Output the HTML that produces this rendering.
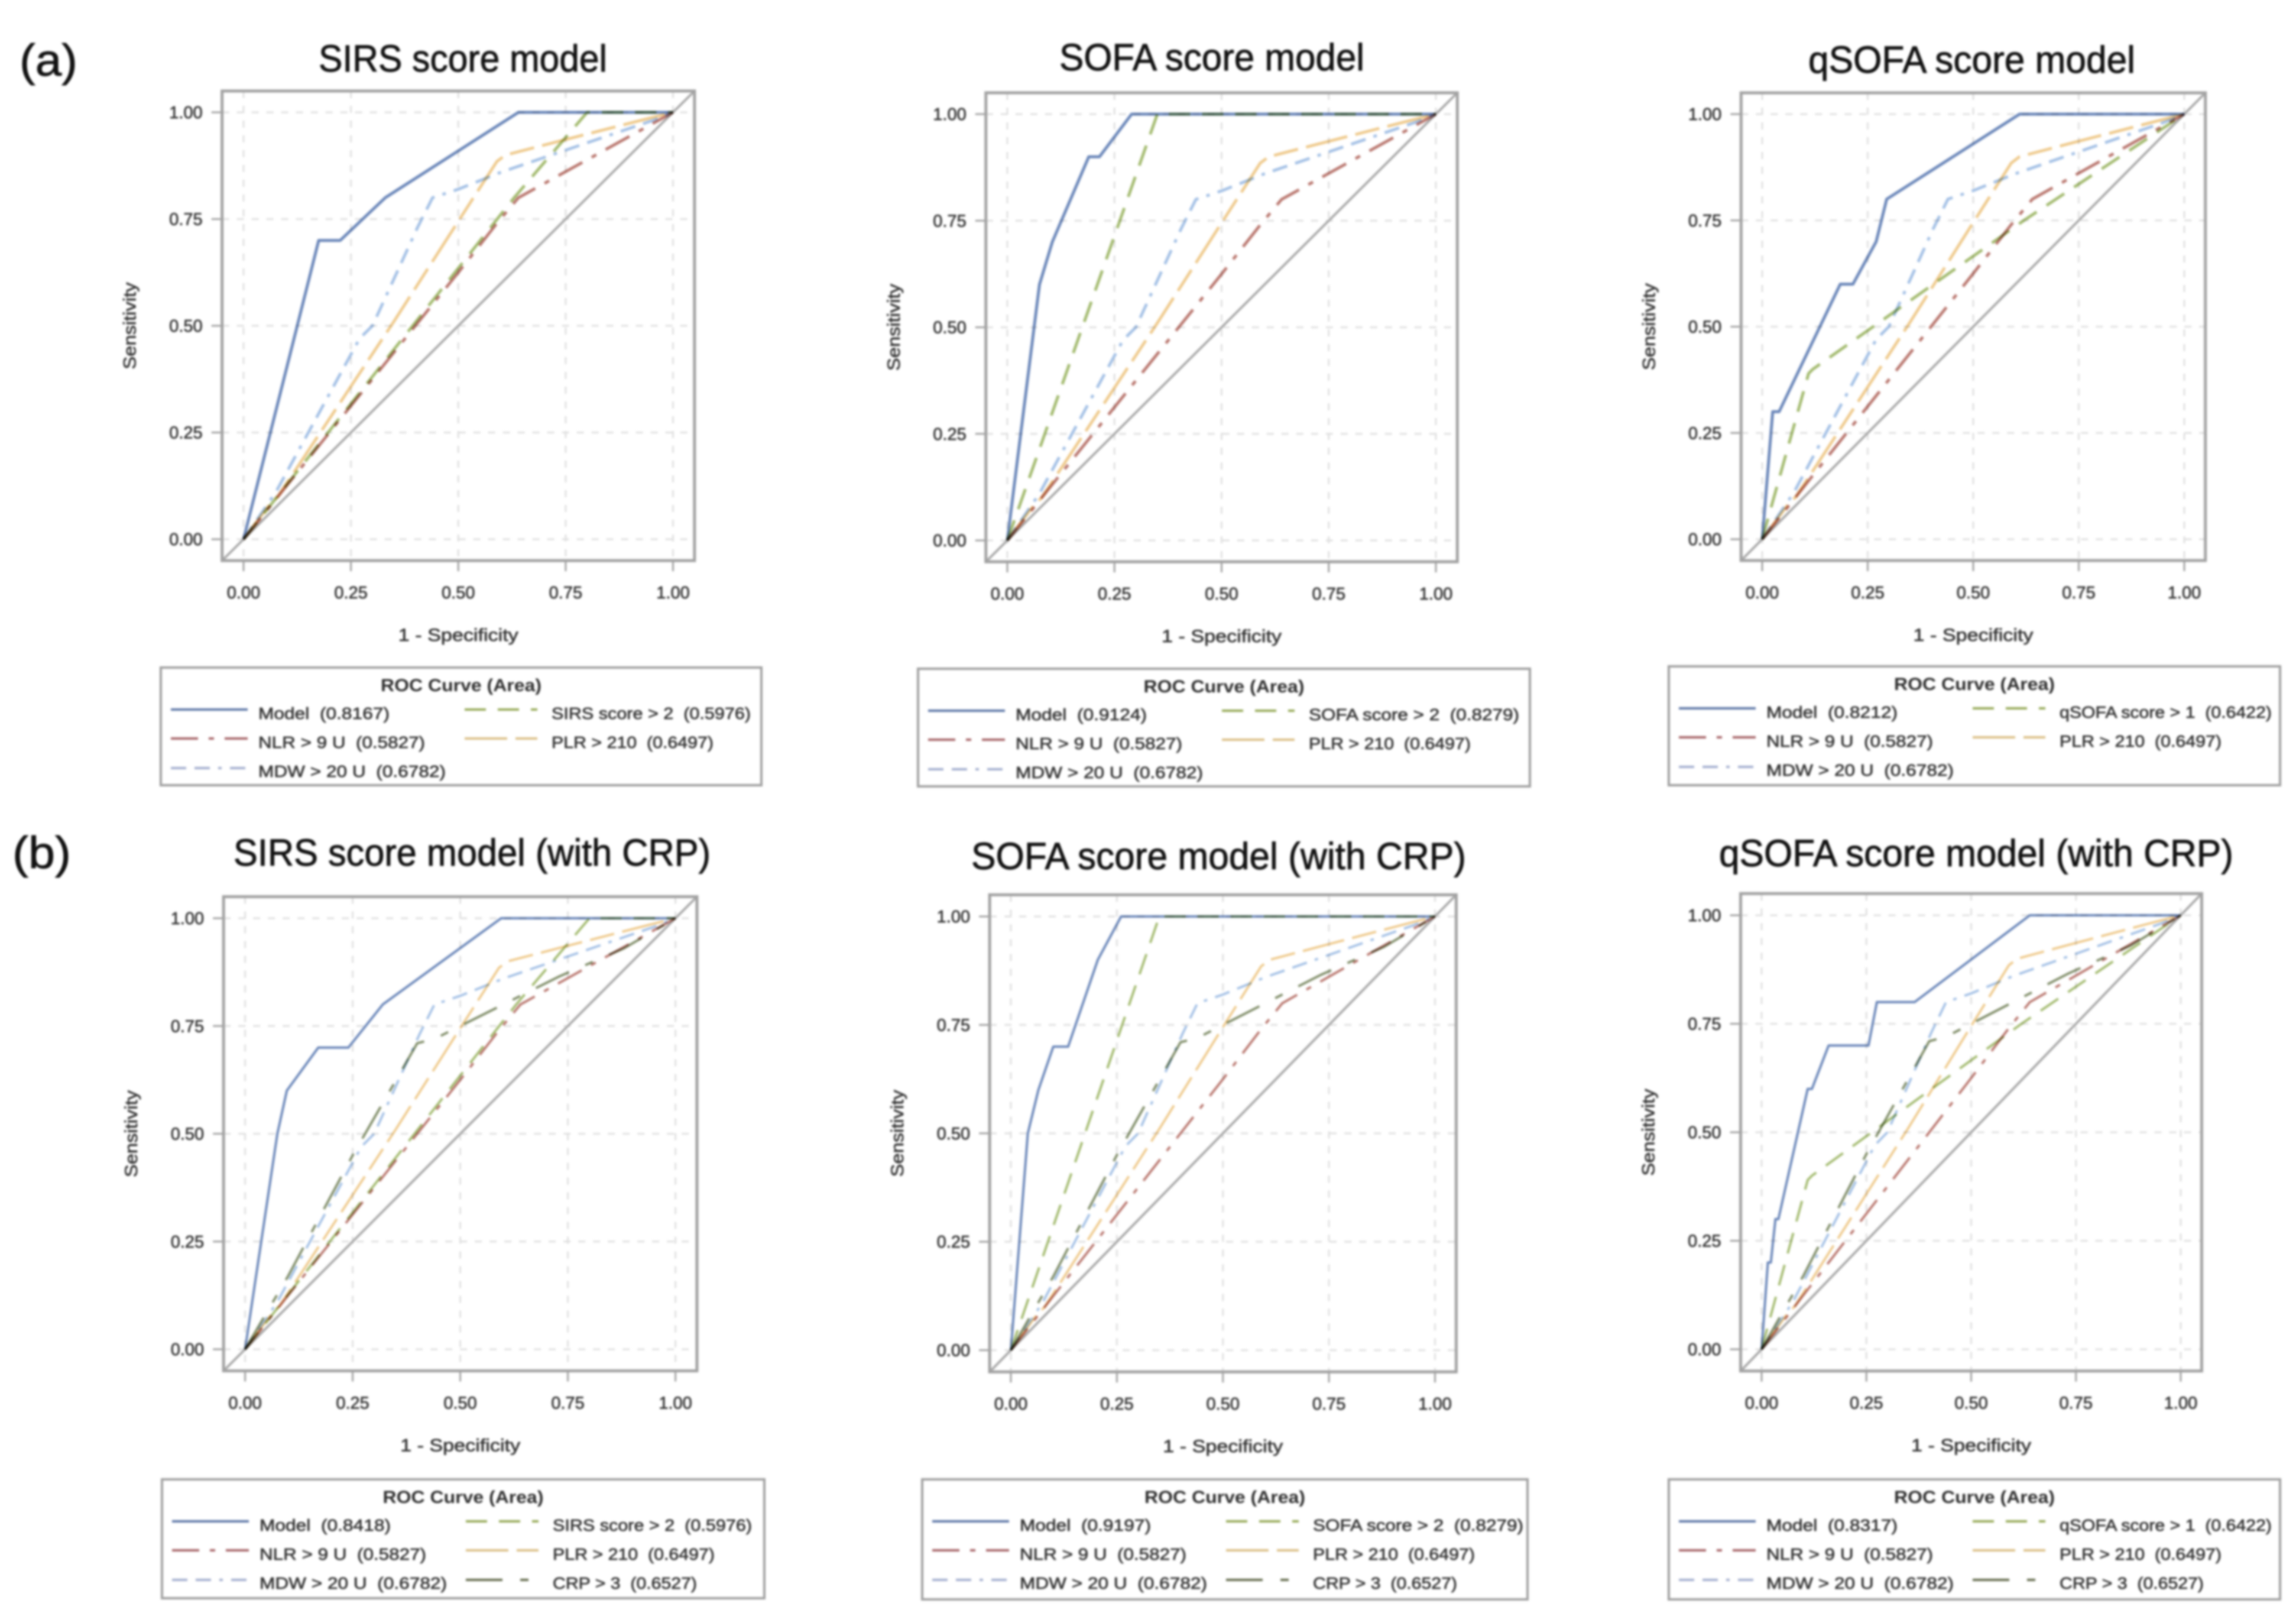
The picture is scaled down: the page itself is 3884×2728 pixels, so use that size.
<!DOCTYPE html>
<html lang="en">
<head>
<meta charset="utf-8">
<title>ROC curves for SIRS, SOFA and qSOFA score models</title>
<style>
  html, body { margin: 0; padding: 0; background: #ffffff; }
  svg { display: block; }
  text { font-family: "Liberation Sans", sans-serif; white-space: pre; }
  #figure-root { filter: blur(1.9px); }
  .panel-title { font-size: 64px; fill: #111111; stroke: #111111; stroke-width: 0.9px; }
  .panel-letter { font-size: 76px; fill: #111111; stroke: #111111; stroke-width: 0.9px; }
  .small-label { stroke: #333333; stroke-width: 0.7px; }
  .curve { mix-blend-mode: multiply; }
</style>
</head>
<body>
<svg id="figure" width="3884" height="2728" viewBox="0 0 3884 2728" xmlns="http://www.w3.org/2000/svg">
  <rect width="3884" height="2728" fill="#ffffff"/>
  <g id="figure-root">
    <text class="panel-letter" x="33" y="128" textLength="98" lengthAdjust="spacingAndGlyphs">(a)</text>
    <text class="panel-letter" x="21" y="1468" textLength="99" lengthAdjust="spacingAndGlyphs">(b)</text>
    <text class="panel-title" x="539" y="121" textLength="488" lengthAdjust="spacingAndGlyphs">SIRS score model</text>
    <text class="panel-title" x="1792" y="119" textLength="516" lengthAdjust="spacingAndGlyphs">SOFA score model</text>
    <text class="panel-title" x="3059" y="123" textLength="553" lengthAdjust="spacingAndGlyphs">qSOFA score model</text>
    <text class="panel-title" x="395" y="1464" textLength="807" lengthAdjust="spacingAndGlyphs">SIRS score model (with CRP)</text>
    <text class="panel-title" x="1643" y="1470" textLength="837" lengthAdjust="spacingAndGlyphs">SOFA score model (with CRP)</text>
    <text class="panel-title" x="2908" y="1465" textLength="870" lengthAdjust="spacingAndGlyphs">qSOFA score model (with CRP)</text>
  </g>
</svg>
<script>
// ---- chart data: [1 - specificity, sensitivity] ----
const tickValues = [0, 0.25, 0.5, 0.75, 1];
const tickLabels = ["0.00", "0.25", "0.50", "0.75", "1.00"];

const nlrCurve = [[0,0],[0.04,0.05],[0.08,0.1],[0.44,0.55],[0.5,0.625],[0.59,0.74],[0.64,0.8],[1,1]];
const mdwCurve = [[0,0],[0.075,0.11],[0.27,0.47],[0.3,0.5],[0.405,0.73],[0.44,0.8],[0.5,0.82],[0.6,0.86],[0.95,0.98],[1,1]];
const plrCurve = [[0,0],[0.06,0.08],[0.08,0.1],[0.35,0.51],[0.5,0.745],[0.59,0.885],[0.61,0.9],[0.745,0.935],[0.94,0.985],[1,1]];
const crpCurve = [[0,0],[0.1,0.17],[0.25,0.45],[0.4,0.71],[0.44,0.72],[0.5,0.75],[0.62,0.81],[0.73,0.865],[0.88,0.93],[1,1]];
const sirsScoreCurve = [[0,0],[0.63,0.8],[0.8,1],[1,1]];
const sofaScoreCurve = [[0,0],[0.35,1],[1,1]];
const qsofaScoreCurve = [[0,0],[0.11,0.39],[0.12,0.4],[0.62,0.75],[1,1]];

const modelSirs = [[0,0],[0.15,0.6],[0.175,0.7],[0.225,0.7],[0.33,0.8],[0.64,1],[1,1]];
const modelSofa = [[0,0],[0.075,0.6],[0.105,0.7],[0.19,0.9],[0.215,0.9],[0.29,1],[1,1]];
const modelQsofa = [[0,0],[0.025,0.3],[0.04,0.3],[0.185,0.6],[0.215,0.6],[0.27,0.7],[0.295,0.8],[0.61,1],[1,1]];
const modelSirsCrp = [[0,0],[0.075,0.5],[0.097,0.6],[0.17,0.7],[0.24,0.7],[0.32,0.8],[0.595,1],[1,1]];
const modelSofaCrp = [[0,0],[0.04,0.5],[0.065,0.6],[0.1,0.7],[0.135,0.7],[0.205,0.9],[0.26,1],[1,1]];
const modelQsofaCrp = [[0,0],[0.015,0.2],[0.022,0.2],[0.033,0.3],[0.04,0.3],[0.11,0.6],[0.12,0.6],[0.16,0.7],[0.255,0.7],[0.275,0.8],[0.365,0.8],[0.64,1],[1,1]];

const modelAreas = ["0.8167", "0.9124", "0.8212", "0.8418", "0.9197", "0.8317"];
const nlrArea = "0.5827";
const mdwArea = "0.6782";
const plrArea = "0.6497";
const crpArea = "0.6527";
const sirsArea = "0.5976";
const sofaArea = "0.8279";
const qsofaArea = "0.6422";

// ---- layout and style ----
const panels = [
  {id:"sirs", x0:412, x1:1138.5, y0:912, y1:190, lw:5, model:modelSirs, area:modelAreas[0], score:sirsScoreCurve, scoreName:"SIRS score > 2", scoreArea:sirsArea, crp:false, box:[272,1129,1016,199]},
  {id:"sofa", x0:1704, x1:2429, y0:914, y1:193, lw:5, model:modelSofa, area:modelAreas[1], score:sofaScoreCurve, scoreName:"SOFA score > 2", scoreArea:sofaArea, crp:false, box:[1553,1131,1035,199]},
  {id:"qsofa", x0:2981, x1:3695, y0:912, y1:193, lw:5, model:modelQsofa, area:modelAreas[2], score:qsofaScoreCurve, scoreName:"qSOFA score > 1", scoreArea:qsofaArea, crp:false, box:[2823,1127,1034,201]},
  {id:"sirs-crp", x0:414.6, x1:1142.6, y0:2282, y1:1553, lw:4, model:modelSirsCrp, area:modelAreas[3], score:sirsScoreCurve, scoreName:"SIRS score > 2", scoreArea:sirsArea, crp:true, box:[274,2502,1019,201]},
  {id:"sofa-crp", x0:1710, x1:2427.5, y0:2283.5, y1:1550, lw:4, model:modelSofaCrp, area:modelAreas[4], score:sofaScoreCurve, scoreName:"SOFA score > 2", scoreArea:sofaArea, crp:true, box:[1560,2502,1024,203]},
  {id:"qsofa-crp", x0:2980, x1:3689, y0:2282, y1:1548, lw:4, model:modelQsofaCrp, area:modelAreas[5], score:qsofaScoreCurve, scoreName:"qSOFA score > 1", scoreArea:qsofaArea, crp:true, box:[2823,2502,1034,203]}
];
const COLORS = {model:"#6c88ba", nlr:"#bb7a72", mdw:"#a6c2e6", score:"#a5bc72", plr:"#efcb8f", crp:"#83906c"};
const SWATCH = {model:"#5f78a8", nlr:"#a8666a", mdw:"#a5b0d0", score:"#98ab5a", plr:"#dcc088", crp:"#666e50"};
const DASH = {model:"", nlr:"46 18 9 18", mdw:"26 14 26 14 6 14", score:"36 20", plr:"72 14 42 14", crp:"62 30 14 30"};
const WIDTHS = {Model:222, SIRS:337, SOFA:356, qSOFA:359, NLR:282, MDW:317, PLR:274, CRP:244};
const FRAME = "#a2a2a2", GRID = "#e0e0e0", TEXT = "#333333";

const NS = "http://www.w3.org/2000/svg";
const root = document.getElementById("figure-root");
function make(tag, attrs, parent) {
  const el = document.createElementNS(NS, tag);
  for (const k in attrs) el.setAttribute(k, attrs[k]);
  parent.appendChild(el);
  return el;
}
function drawPanel(p) {
  const x = v => p.x0 + v * (p.x1 - p.x0);
  const y = v => p.y0 + v * (p.y1 - p.y0);
  const left = x(-0.05), right = x(1.05), top = y(1.05), bottom = y(-0.05);

  const g = make("g", {}, root);
  
  

  tickValues.forEach((t, i) => {
    const gv = make("line", {x1:x(t), x2:x(t), y1:top, y2:bottom, stroke:GRID, "stroke-width":3, "stroke-dasharray":"12 13"}, g);
    
    
    const gh = make("line", {x1:left, x2:right, y1:y(t), y2:y(t), stroke:GRID, "stroke-width":3, "stroke-dasharray":"12 13"}, g);
    
    
    const tx = make("line", {x1:x(t), x2:x(t), y1:bottom, y2:bottom + 18, stroke:FRAME, "stroke-width":3}, g);
    
    
    const ty = make("line", {x1:left - 18, x2:left, y1:y(t), y2:y(t), stroke:FRAME, "stroke-width":3}, g);
    
    
    const lx = make("text", {class:"small-label", x:x(t), y:bottom + 64, "text-anchor":"middle", "font-size":29, fill:TEXT}, g);
    lx.textContent = tickLabels[i];
    
    
    const ly = make("text", {class:"small-label", x:left - 33, y:y(t) + 10, "text-anchor":"end", "font-size":29, fill:TEXT}, g);
    ly.textContent = tickLabels[i];
    
    
  });

  const diag = make("line", {x1:left, y1:bottom, x2:right, y2:top, stroke:"#aaaaaa", "stroke-width":4}, g);
  
  

  const series = [
    {key:"model", pts:p.model, label:"Model  (" + p.area + ")", short:"Model", col:0, row:0},
    {key:"nlr", pts:nlrCurve, label:"NLR > 9 U  (" + nlrArea + ")", short:"NLR", col:0, row:1},
    {key:"mdw", pts:mdwCurve, label:"MDW > 20 U  (" + mdwArea + ")", short:"MDW", col:0, row:2},
    {key:"score", pts:p.score, label:p.scoreName + "  (" + p.scoreArea + ")", short:p.scoreName.split(" ")[0], col:1, row:0},
    {key:"plr", pts:plrCurve, label:"PLR > 210  (" + plrArea + ")", short:"PLR", col:1, row:1}
  ];
  if (p.crp) series.push({key:"crp", pts:crpCurve, label:"CRP > 3  (" + crpArea + ")", short:"CRP", col:1, row:2});

  series.forEach(s => {
    const d = s.pts.map(pt => x(pt[0]).toFixed(1) + "," + y(pt[1]).toFixed(1)).join(" ");
    const line = make("polyline", {class:"curve", points:d, fill:"none", stroke:COLORS[s.key], "stroke-width":p.lw, "stroke-dasharray":DASH[s.key], "stroke-linejoin":"round"}, g);
    
    
  });

  const frame = make("rect", {x:left, y:top, width:right - left, height:bottom - top, fill:"none", stroke:FRAME, "stroke-width":5}, g);
  
  

  const xt = make("text", {class:"small-label", x:(left + right) / 2, y:bottom + 136, "text-anchor":"middle", "font-size":30, fill:TEXT, textLength:203, lengthAdjust:"spacingAndGlyphs"}, g);
  xt.textContent = "1 - Specificity";
  
  

  const yMid = (top + bottom) / 2, yx = left - 146;
  const yt = make("text", {class:"small-label", x:yx, y:yMid, transform:"rotate(-90 " + yx + " " + yMid + ")", "text-anchor":"middle", "font-size":30, fill:TEXT, textLength:147, lengthAdjust:"spacingAndGlyphs"}, g);
  yt.textContent = "Sensitivity";
  
  

  // legend
  const bx = p.box[0], by = p.box[1], bw = p.box[2], bh = p.box[3];
  const lg = make("g", {}, g);
  
  
  const box = make("rect", {x:bx, y:by, width:bw, height:bh, fill:"#ffffff", stroke:"#a0a0a0", "stroke-width":4}, lg);
  
  
  const lt = make("text", {x:bx + bw / 2, y:by + 40, "text-anchor":"middle", "font-size":30, "font-weight":"bold", fill:"#2e2e2e", textLength:272, lengthAdjust:"spacingAndGlyphs"}, lg);
  lt.textContent = "ROC Curve (Area)";
  
  

  const rowLine = [71, 120, 170], rowText = [87, 136, 185];
  series.forEach(s => {
    const lx0 = bx + (s.col ? 514 : 17), lx1 = lx0 + (s.col ? 123 : 130), tx0 = bx + (s.col ? 661 : 165);
    const swatch = make("line", {x1:lx0, x2:lx1, y1:by + rowLine[s.row], y2:by + rowLine[s.row], stroke:SWATCH[s.key], "stroke-width":4, "stroke-dasharray":DASH[s.key]}, lg);
    
    
    const lab = make("text", {class:"small-label", x:tx0, y:by + rowText[s.row], "font-size":28, fill:TEXT, textLength:WIDTHS[s.short], lengthAdjust:"spacingAndGlyphs"}, lg);
    lab.textContent = s.label;
    
    
  });
}
panels.forEach(drawPanel);
</script>
</body>
</html>
